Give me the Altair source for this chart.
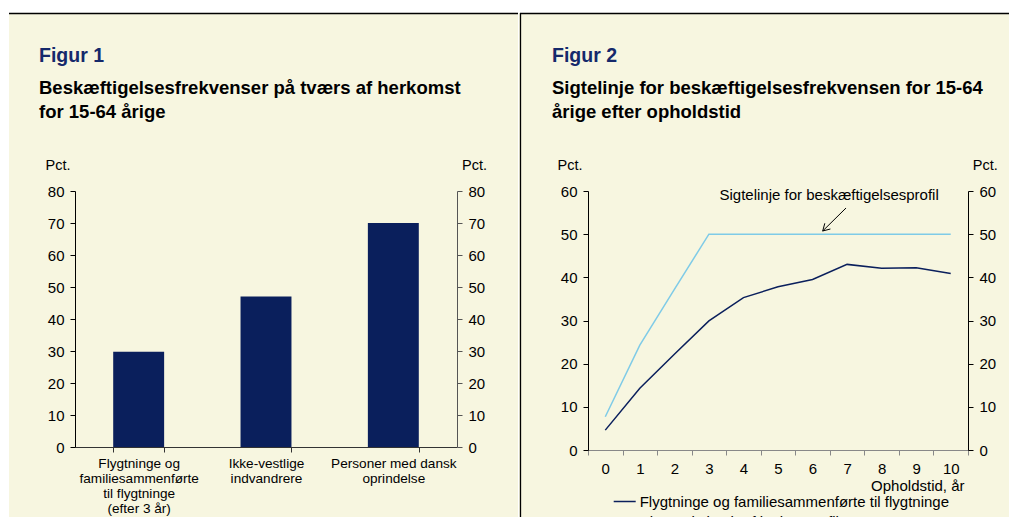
import altair as alt
import pandas as pd

# ---------------- data ----------------
# Figur 1
CATEGORIES = [
    "Flygtninge og|familiesammenførte|til flygtninge|(efter 3 år)",
    "Ikke-vestlige|indvandrere",
    "Personer med dansk|oprindelse",
]
RATES = [29.8, 47.0, 70.0]
Y1_TICKS = [0, 10, 20, 30, 40, 50, 60, 70, 80]

# Figur 2
YEARS = [0, 1, 2, 3, 4, 5, 6, 7, 8, 9, 10]
REFUGEES = [4.6, 14.3, 22.2, 29.9, 35.3, 37.8, 39.5, 43.0, 42.1, 42.2, 40.9]
PROFILE = [7.7, 24.3, 37.2, 50.0, 50.0, 50.0, 50.0, 50.0, 50.0, 50.0, 50.0]
SERIES = ["Flygtninge og familiesammenførte til flygtninge", "Alternativ beskæftigelsesprofil"]
Y2_TICKS = [0, 10, 20, 30, 40, 50, 60]

ANNOT_TEXT = ["Sigtelinje for beskæftigelsesprofil"]
ANNOT_X = [6.48]
ANNOT_Y = [57.9]
ARROW_X1 = [6.969, 6.294, 6.294]
ARROW_Y1 = [56.06, 50.73, 50.73]
ARROW_X2 = [6.294, 6.517, 6.355]
ARROW_Y2 = [50.73, 51.2, 52.52]

TITLE1 = "Figur 1"
SUB1 = ["Beskæftigelsesfrekvenser på tværs af herkomst", "for 15-64 årige"]
TITLE2 = "Figur 2"
SUB2 = ["Sigtelinje for beskæftigelsesfrekvensen for 15-64", "årige efter opholdstid"]

# ---------------- style ----------------
FONT = "Liberation Sans"
NAVY = "#0a1f5c"
TITLE_NAVY = "#15296b"
LIGHT = "#7fcbe7"
CREAM = "#f7f6e0"

W1, H1 = 382, 256
W2, H2 = 380, 259
BOTTOM = 344

one = alt.Data(values=[{"a": 1}])


def decorations(left, right, fig, sub, divider):
    layers = [
        alt.Chart(one).mark_rect(color=CREAM).encode(
            x=alt.value(left), x2=alt.value(right), y=alt.value(-183), y2=alt.value(BOTTOM)
        ),
        alt.Chart(one).mark_rect(color="white").encode(
            x=alt.value(left), x2=alt.value(right), y=alt.value(-183), y2=alt.value(-178)
        ),
    ]
    if not divider:
        layers.append(
            alt.Chart(one).mark_rect(color="white").encode(
                x=alt.value(left), x2=alt.value(left + 1), y=alt.value(-183), y2=alt.value(BOTTOM)
            )
        )
    else:
        layers.append(
            alt.Chart(one).mark_rule(color="black", strokeWidth=1.3).encode(
                x=alt.value(left + 1.5), y=alt.value(-178), y2=alt.value(BOTTOM)
            )
        )
    layers.append(
        alt.Chart(one).mark_rule(color="black", strokeWidth=1.3).encode(
            x=alt.value(left + 1), x2=alt.value(right), y=alt.value(-177.5)
        )
    )
    layers.append(
        alt.Chart(one).mark_text(
            align="left", baseline="alphabetic", font=FONT, fontSize=19.5,
            fontWeight="bold", color=TITLE_NAVY
        ).encode(x=alt.value(-36), y=alt.value(-128.7), text=alt.value(fig))
    )
    layers.append(
        alt.Chart(one).mark_text(
            align="left", baseline="alphabetic", font=FONT, fontSize=18.5,
            fontWeight="bold", color="black", lineHeight=23.5
        ).encode(x=alt.value(-36), y=alt.value(-96.7), text=alt.value(sub))
    )
    return layers


def yaxis(orient, values, title_x, color="black"):
    return alt.Axis(
        orient=orient, values=values, title="Pct.", titleAngle=0, titleX=title_x,
        titleY=-22, titleAlign="center", titleBaseline="alphabetic",
        titleFontSize=14.5, titleFontWeight="normal", labelPadding=6,
        grid=False, domainColor=color, tickColor=color, zindex=2,
    )


# ---------------- Figur 1 ----------------
bars_df = pd.DataFrame({"kategori": CATEGORIES, "pct": RATES})

x1 = alt.X(
    "kategori:N", sort=CATEGORIES,
    scale=alt.Scale(paddingInner=0.6, paddingOuter=0.3),
    axis=alt.Axis(
        orient="bottom", title=None, labelAngle=0, tickBand="extent",
        labelExpr="split(datum.label, '|')", labelFontSize=13.6,
        labelLineHeight=15.2, labelPadding=4, labelOverlap=False,
        labelLimit=400, domainColor="#333333", tickColor="#333333", zindex=2,
    ),
)
bars = alt.Chart(bars_df).mark_bar(color=NAVY).encode(
    x=x1,
    y=alt.Y("pct:Q", scale=alt.Scale(domain=[0, 80], nice=False),
            axis=yaxis("left", Y1_TICKS, -17.5)),
)
bars_right = alt.Chart(bars_df).mark_rule(opacity=0).encode(
    y=alt.Y("pct:Q", scale=alt.Scale(domain=[0, 80], nice=False),
            axis=yaxis("right", Y1_TICKS, 17, "#555555")),
)

panel1 = alt.layer(
    *decorations(-67, W1 + 61, TITLE1, SUB1, False), bars, bars_right
).resolve_scale(y="independent").properties(width=W1, height=H1)

# ---------------- Figur 2 ----------------
rows = []
for name, vals in zip(SERIES, [REFUGEES, PROFILE]):
    for yr, v in zip(YEARS, vals):
        rows.append({"year": yr, "pct": v, "serie": name})
lines_df = pd.DataFrame(rows)

xq = alt.Scale(domain=[-0.5, 10.5], nice=False, zero=False)
yq = alt.Scale(domain=[0, 60], nice=False)

lines = alt.Chart(lines_df).mark_line(strokeWidth=1.5).encode(
    x=alt.X("year:Q", scale=xq, axis=None),
    y=alt.Y("pct:Q", scale=yq, axis=yaxis("left", Y2_TICKS, -18.5)),
    color=alt.Color(
        "serie:N",
        scale=alt.Scale(domain=SERIES, range=[NAVY, LIGHT]),
        legend=alt.Legend(
            orient="none", legendX=537.7, legendY=298.5, direction="vertical",
            title=None, symbolType="stroke", symbolSize=484, symbolStrokeWidth=1.5,
            labelFontSize=15, labelFont=FONT, labelColor="black", labelOffset=3,
            labelLimit=500, rowPadding=-7, zindex=2,
        ),
    ),
    detail="serie:N",
)

axes2 = alt.Chart(lines_df).mark_point(opacity=0).encode(
    x=alt.X("year:O", scale=alt.Scale(type="band", paddingInner=0, paddingOuter=0),
            axis=alt.Axis(orient="bottom", tickBand="extent", labelAngle=0,
                          labelFontSize=15, labelPadding=6, title="Opholdstid, år",
                          titleX=W2 - 4, titleY=40, titleAlign="right",
                          titleBaseline="alphabetic", titleFontSize=15,
                          titleFontWeight="normal", labelOverlap=False, zindex=2)),
    y=alt.Y("pct:Q", scale=yq, axis=yaxis("right", Y2_TICKS, 16.7)),
)

arrow_df = pd.DataFrame({"x1": ARROW_X1, "y1": ARROW_Y1, "x2": ARROW_X2, "y2": ARROW_Y2})
arrow = alt.Chart(arrow_df).mark_rule(color="black", strokeWidth=1).encode(
    x=alt.X("x1:Q", scale=xq, axis=None), x2="x2:Q",
    y=alt.Y("y1:Q", scale=yq, axis=None), y2="y2:Q",
)

annot_df = pd.DataFrame({"x": ANNOT_X, "y": ANNOT_Y, "t": ANNOT_TEXT})
annot = alt.Chart(annot_df).mark_text(
    align="center", baseline="alphabetic", font=FONT, fontSize=15, color="black"
).encode(
    x=alt.X("x:Q", scale=xq, axis=None),
    y=alt.Y("y:Q", scale=yq, axis=None),
    text="t:N",
)

panel2 = alt.layer(
    *decorations(-69, W2 + 42, TITLE2, SUB2, True), lines, axes2, arrow, annot
).resolve_scale(x="independent", y="independent").properties(width=W2, height=H2)

chart = alt.hconcat(panel1, panel2, spacing=0).properties(
    autosize=alt.AutoSizeParams(type="none"),
    padding={"left": 67, "top": 183, "right": 934, "bottom": 326},
    background="white",
).configure(font=FONT).configure_view(stroke=None).configure_axis(
    labelFont=FONT, titleFont=FONT, labelColor="black", titleColor="black",
    tickSize=5, domainWidth=1, tickWidth=1, labelFontSize=15, grid=False,
)

chart.save("out.html", embed_options={"renderer": "svg", "actions": False})
